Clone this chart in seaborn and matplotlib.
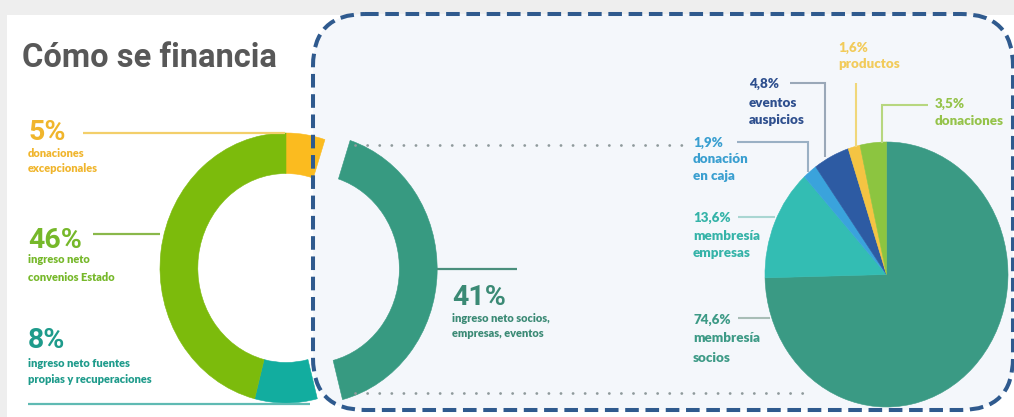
import matplotlib
matplotlib.use("Agg")
import matplotlib.pyplot as plt
from matplotlib.patches import FancyBboxPatch, Rectangle
import seaborn as sns

# Funding sources, clockwise from twelve o'clock
fuentes = ["donaciones\nexcepcionales", "ingreso neto socios,\nempresas, eventos",
           "ingreso neto fuentes\npropias y recuperaciones", "ingreso neto\nconvenios Estado"]
fuentes_pct = [5, 41, 8, 46]

# Breakdown of the 41% share, clockwise from twelve o'clock
detalle = ["membresía\nsocios", "membresía\nempresas", "donación\nen caja",
           "eventos\nauspicios", "productos", "donaciones"]
detalle_pct = [74.6, 13.6, 1.9, 4.8, 1.6, 3.5]

titulo = "Cómo se financia"

sns.set_theme(style="white")
COND = ["Roboto", "DejaVu Sans"]
LBL = ["Lato", "DejaVu Sans"]
plt.rcParams["font.family"] = LBL

col_fuentes = sns.color_palette(["#fbbb1f", "#379a81", "#12ad9f", "#7cbb0c"])
txt_fuentes = ["#f0b52c", "#3b8a75", "#1e9b8b", "#76b82a"]
col_detalle = sns.color_palette(["#3a9a84", "#33bdb3", "#3aa3dc", "#2d5ba3", "#f4c443", "#8cc540"])
txt_detalle = ["#3d9a86", "#35b3a8", "#3a9fd0", "#2e4f8e", "#f2cb5a", "#95c34a"]

W, H = 1014, 417
fig = plt.figure(figsize=(W / 100, H / 100), dpi=100, facecolor="#eeeeee")

# background layer: white card and tinted box
bg = fig.add_axes([0, 0, 1, 1], zorder=0)
bg.set_xlim(0, W)
bg.set_ylim(H, 0)
bg.axis("off")
bg.add_patch(Rectangle((7, 15), W, H, facecolor="white", edgecolor="none"))
BOX = dict(xy=(313, 14), w=700, h=396)
bg.add_patch(FancyBboxPatch(BOX["xy"], BOX["w"], BOX["h"],
                            boxstyle="round,pad=0,rounding_size=52",
                            facecolor="#f4f7fb", edgecolor="none"))


def pie_axes(cx, cy, rx, ry, lim):
    a = fig.add_axes([(cx - lim * rx) / W, 1 - (cy + lim * ry) / H,
                      2 * lim * rx / W, 2 * lim * ry / H], zorder=1)
    return a


def finish(a, lim):
    a.set_aspect("auto")
    a.set_xlim(-lim, lim)
    a.set_ylim(-lim, lim)
    a.axis("off")


# outer ring with the 41% segment pulled out to the right
L = 1.3
a1 = pie_axes(286, 268, 126, 135, L)
wedges, _ = a1.pie(fuentes_pct, colors=col_fuentes, startangle=90, counterclock=False,
                   radius=1, explode=[0, 0.2, 0, 0],
                   wedgeprops=dict(width=0.3, linewidth=0.4))
for w, c in zip(wedges, col_fuentes):
    w.set_edgecolor(c)
finish(a1, L)

# detail pie of the 41% share
a2 = pie_axes(886.5, 274.5, 121.5, 132.5, 1.02)
wedges2, _ = a2.pie(detalle_pct, colors=col_detalle, startangle=90, counterclock=False,
                    radius=1, wedgeprops=dict(linewidth=0.4))
for w, c in zip(wedges2, col_detalle):
    w.set_edgecolor(c)
finish(a2, 1.02)

# overlay: border, connectors, text
ax = fig.add_axes([0, 0, 1, 1], zorder=2)
ax.set_xlim(0, W)
ax.set_ylim(H, 0)
ax.axis("off")
ax.patch.set_alpha(0)

lw_box = 2.9
ax.add_patch(FancyBboxPatch(BOX["xy"], BOX["w"], BOX["h"],
                            boxstyle="round,pad=0,rounding_size=52",
                            facecolor="none", edgecolor="#2f5a8e", linewidth=lw_box,
                            linestyle=(0, (9.8 / lw_box, 4.8 / lw_box))))

# dotted links between the pulled segment and the detail pie
for y, x1 in [(145, 683), (393, 810)]:
    ax.plot([355, x1], [y, y], color="#8f9a9c", lw=2.0, linestyle=(0, (0.05, 8.6 / 2.0)),
            dash_capstyle="round", solid_capstyle="round")

ax.text(22, 67, titulo, family=COND, weight="bold", fontsize=23.5, color="#585858",
        va="baseline")


def fmt(v):
    s = f"{v:.1f}".replace(".", ",") if isinstance(v, float) else f"{v}"
    return s + "%"


# left ring labels
left = {0: dict(x=28, y=140, sub=[157, 172], line=([83, 285], [133, 133]), lc="#f3cf6a"),
        3: dict(x=28, y=248, sub=[263, 281], line=([93, 160], [234, 234]), lc="#8ab84a"),
        2: dict(x=28, y=348, sub=[367, 383], line=([28, 310], [404, 404]), lc="#5fbab3"),
        1: dict(x=452, y=305, sub=[322, 337], line=([437, 517], [269, 269]), lc="#4a8f7c")}
for i, d in left.items():
    ax.plot(*d["line"], color=d["lc"], lw=1.6, solid_capstyle="butt")
    ax.text(d["x"], d["y"], fmt(fuentes_pct[i]), family=COND, weight="bold",
            fontsize=20.5, color=txt_fuentes[i], va="baseline")
    for ln, yy in zip(fuentes[i].split("\n"), d["sub"]):
        ax.text(d["x"], yy, ln, weight="heavy", fontsize=7.9, color=txt_fuentes[i],
                va="baseline")

# detail pie labels
right = {
    4: dict(x=838, ys=[52, 68], line=([856, 856], [83, 147]), lc="#f0d77a"),
    3: dict(x=749, ys=[88, 107, 124], line=([790, 825, 825], [83, 83, 157]), lc="#9aa8b8"),
    5: dict(x=935, ys=[108, 125], line=([928, 882, 882], [105, 105, 143]), lc="#b7d77f"),
    2: dict(x=693, ys=[147, 163, 180], line=([737, 808, 808], [142, 142, 172]), lc="#9ab0c4"),
    1: dict(x=693, ys=[222, 240, 257], line=([738, 775], [217, 217]), lc="#a9d6d2"),
    0: dict(x=693, ys=[324, 342, 362], line=([738, 770], [318, 318]), lc="#a8bdb6"),
}
for i, d in right.items():
    ax.plot(*d["line"], color=d["lc"], lw=1.5, solid_capstyle="butt", solid_joinstyle="miter")
    lines = [fmt(detalle_pct[i])] + detalle[i].split("\n")
    for ln, yy in zip(lines, d["ys"]):
        ax.text(d["x"], yy, ln, weight="heavy", fontsize=9.6, color=txt_detalle[i],
                va="baseline")

fig.savefig("out.png", dpi=100, facecolor=fig.get_facecolor())
